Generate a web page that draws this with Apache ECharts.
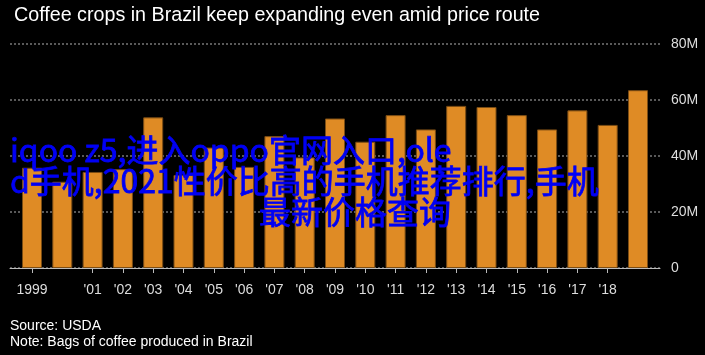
<!DOCTYPE html>
<html>
<head>
<meta charset="utf-8">
<script src="https://cdn.jsdelivr.net/npm/echarts@6/dist/echarts.min.js"></script>
<style>
html,body{margin:0;padding:0;background:#000;}
#c{width:705px;height:355px;}
</style>
</head>
<body>
<div id="c"></div>
<script>
// Data (million bags)
const years = [1999,2000,2001,2002,2003,2004,2005,2006,2007,2008,2009,2010,2011,2012,2013,2014,2015,2016,2017,2018,2019];
const production = [35.8,30.8,34.3,35.3,53.8,33.2,43.0,36.1,47.1,39.5,53.4,45.1,54.6,49.5,57.9,57.5,54.6,49.5,56.3,51.1,63.5];
const labeledYears = [1999,2001,2002,2003,2004,2005,2006,2007,2008,2009,2010,2011,2012,2013,2014,2015,2016,2017,2018];
const yTicks = [0,20,40,60,80];
const overlayLines = ['iqoo z5,进入oppo官网入口,ole','d手机,2021性价比高的手机推荐排行,手机','最新价格查询'];

const chart = echarts.init(document.getElementById('c'));
const font = '"Liberation Sans", Arial, sans-serif';
const ofont = '32px "Noto Sans CJK SC", "Noto Sans", sans-serif';
const oStyle = {fill: '#0000f5', stroke: '#0000f5', lineWidth: 0.8, font: ofont, verticalAlign: 'middle'};
chart.setOption({
  backgroundColor: '#000',
  animation: false,
  title: {
    text: 'Coffee crops in Brazil keep expanding even amid price route',
    left: 9, top: 1,
    textStyle: {color: '#fff', fontSize: 19.7, fontWeight: 'normal', fontFamily: font}
  },
  grid: {left: 10, right: 45, top: 44, bottom: 87},
  xAxis: {
    type: 'value',
    min: 1998.274, max: 2019.726,
    splitLine: {show: false},
    axisLine: {show: true, onZero: false, lineStyle: {color: '#bbb', width: 1}},
    axisTick: {show: true, length: 5, customValues: labeledYears, lineStyle: {color: '#bbb'}},
    axisLabel: {
      customValues: labeledYears,
      margin: 15,
      color: '#ddd', fontSize: 14, fontFamily: font,
      formatter: v => v === 1999 ? '1999' : "'" + String(v).slice(2)
    }
  },
  yAxis: {
    type: 'value', position: 'right',
    min: yTicks[0], max: yTicks[yTicks.length-1], interval: 20,
    axisLine: {show: false}, axisTick: {show: false},
    splitLine: {show: true, lineStyle: {color: '#777', type: [2,2], width: 1.5}},
    axisLabel: {
      margin: 11, color: '#ddd', fontSize: 14, fontFamily: font,
      formatter: v => v === 0 ? '0' : v + 'M'
    }
  },
  series: [{
    type: 'bar',
    barWidth: 20,
    data: years.map((y, i) => [y, production[i]]),
    itemStyle: {color: '#df8b25', borderColor: '#7a4c14', borderWidth: 1}
  }],
  graphic: [
    {type: 'text', left: 10, top: 319, style: {text: 'Source: USDA', fill: '#fff', font: '14px ' + font}},
    {type: 'text', left: 10, top: 335, style: {text: 'Note: Bags of coffee produced in Brazil', fill: '#fff', font: '14px ' + font}},
    {type: 'text', x: 10, y: 150, z: 100, style: Object.assign({text: overlayLines[0]}, oStyle)},
    {type: 'text', x: 10, y: 181, z: 100, style: Object.assign({text: overlayLines[1]}, oStyle)},
    {type: 'text', x: 259, y: 212, z: 100, style: Object.assign({text: overlayLines[2]}, oStyle)}
  ]
});
</script>
</body>
</html>
